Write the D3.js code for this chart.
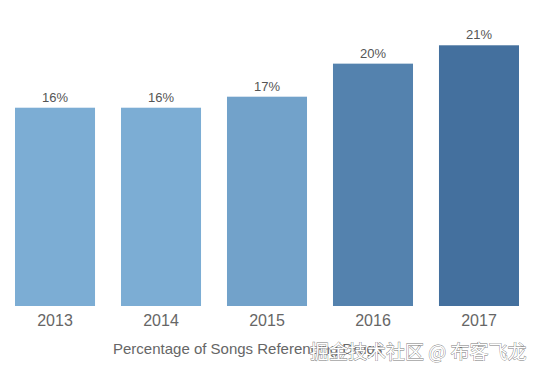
<!DOCTYPE html>
<html>
<head>
<meta charset="utf-8">
<script src="https://cdn.jsdelivr.net/npm/d3@7"></script>
<style>
  body { margin: 0; background: #fff; }
  svg text { font-family: "Liberation Sans", Arial, sans-serif; }
</style>
</head>
<body>
<svg id="chart" width="538" height="374"></svg>
<script>
// ---------------- data ----------------
var years = ["2013", "2014", "2015", "2016", "2017"];
var shares = [16.2, 16.2, 17.1, 19.8, 21.3];   // percent of songs
var axisTitle = "Percentage of Songs Referencing Drugs";
var watermark = "掘金技术社区 @ 布客飞龙";

var width = 538, height = 374;
var svg = d3.select("#chart");

var x = d3.scaleBand()
    .domain(years)
    .range([15, 519])
    .paddingInner(0.245)
    .paddingOuter(0);

var y = d3.scaleLinear()
    .domain([0, 25])
    .range([306, 0]);

// tableau-ish sequential blue
var color = d3.scaleLinear()
    .domain([d3.min(shares), d3.max(shares)])
    .range(["#7cadd4", "#44709e"]);

var data = years.map(function(d, i) { return {year: d, value: shares[i]}; });

// bars
svg.selectAll(".bar")
    .data(data)
  .enter().append("rect")
    .attr("class", "bar")
    .attr("x", function(d) { return x(d.year); })
    .attr("y", function(d) { return y(d.value); })
    .attr("width", x.bandwidth())
    .attr("height", function(d) { return y(0) - y(d.value); })
    .attr("fill", function(d) { return color(d.value); });

// value labels
svg.selectAll(".val")
    .data(data)
  .enter().append("text")
    .attr("class", "val")
    .attr("x", function(d) { return x(d.year) + x.bandwidth() / 2; })
    .attr("y", function(d) { return y(d.value) - 6; })
    .attr("text-anchor", "middle")
    .attr("font-size", "13px")
    .attr("fill", "#555")
    .text(function(d) { return d3.format(".0f")(d.value) + "%"; });

// x axis (no line, no ticks)
var xAxis = svg.append("g")
    .attr("transform", "translate(0,306)")
    .call(d3.axisBottom(x).tickSize(0).tickPadding(9));
xAxis.select(".domain").remove();
xAxis.selectAll("text")
    .attr("font-size", "16px")
    .attr("font-family", "Liberation Sans, Arial, sans-serif")
    .attr("fill", "#666");

// axis title
svg.append("text")
    .attr("x", 113)
    .attr("y", 354)
    .attr("font-size", "15px")
    .attr("fill", "#666")
    .text(axisTitle);

// watermark
svg.append("text")
    .attr("x", 310)
    .attr("y", 359)
    .attr("font-size", "19px")
    .style("font-family", "'Noto Sans CJK SC', sans-serif")
    .attr("fill", "#fff")
    .attr("stroke", "#777")
    .attr("stroke-width", 0.8)
    .attr("paint-order", "stroke")
    .text(watermark);
</script>
</body>
</html>
